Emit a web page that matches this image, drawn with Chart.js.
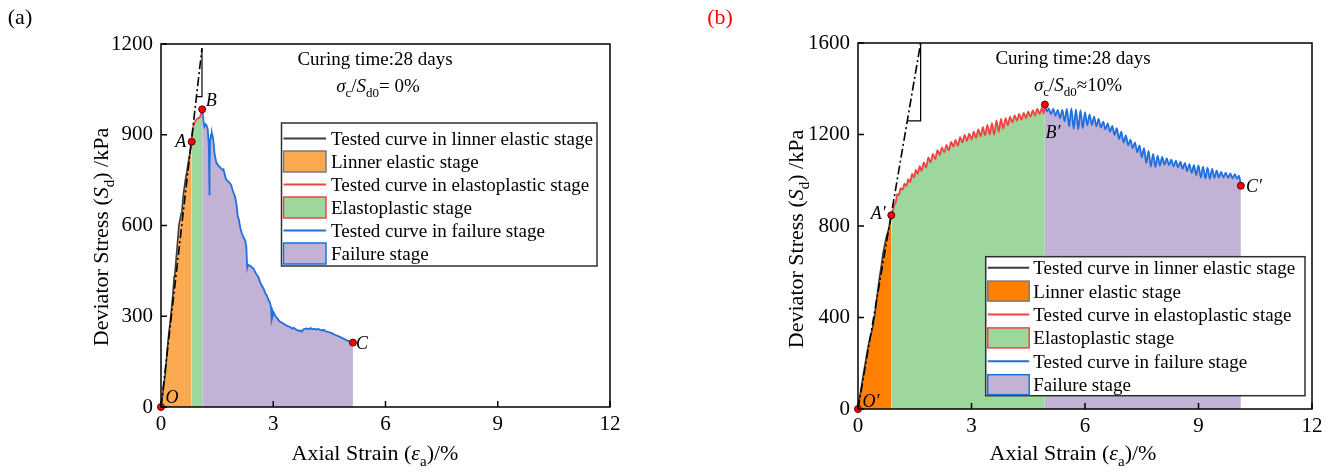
<!DOCTYPE html>
<html>
<head>
<meta charset="utf-8">
<script src="https://cdn.jsdelivr.net/npm/chart.js@4.4.1/dist/chart.umd.min.js"></script>
<style>
  html, body { margin: 0; padding: 0; background: #fff; width: 1333px; height: 473px; overflow: hidden; }
  canvas { position: absolute; top: 0; }
  #chartA { left: 0; }
  #chartB { left: 665px; }
</style>
</head>
<body>
<canvas id="chartA" width="665" height="473"></canvas>
<canvas id="chartB" width="668" height="473"></canvas>
<script>
// ---------- axis ticks ----------
const strainTicks = [0, 3, 6, 9, 12];
const stressTicksA = [0, 300, 600, 900, 1200];
const stressTicksB = [0, 400, 800, 1200, 1600];

// ---------- legend / annotation text ----------
const curveNames = ['Tested curve in linner elastic stage', 'Tested curve in elastoplastic stage', 'Tested curve in failure stage'];
const stageNames = ['Linner elastic stage', 'Elastoplastic stage', 'Failure stage'];
const curingText = 'Curing time:28 days';

// ---------- panel (a): sigma_c / Sd0 = 0 %  ([strain %, stress kPa]) ----------
const elasticA = [[0,0],[0.06,55],[0.115,111],[0.19,221],[0.26,299],[0.32,376],[0.35,431],[0.37,440],[0.41,497],
  [0.48,602],[0.54,640],[0.56,648],[0.59,695],[0.65,750],[0.70,785],[0.74,817],[0.78,845],[0.82,877]];
const plasticA = [[0.82,877],[0.84,905],[0.86,927],[0.90,942],[0.95,951],[1.00,955],[1.04,958],[1.07,968],[1.10,984]];
const failureA = [[1.10,984],[1.12,965],[1.14,940],[1.16,927],[1.19,935],[1.22,930],[1.25,918],[1.27,880],[1.28,850],
  [1.29,760],[1.295,700],[1.30,790],[1.31,880],[1.34,900],[1.36,905],[1.38,895],[1.40,880],[1.43,840],[1.45,825],
  [1.48,808],[1.52,800],[1.56,795],[1.60,790],[1.64,784],[1.67,786],[1.70,770],[1.73,755],[1.76,750],[1.80,745],
  [1.84,740],[1.87,735],[1.89,727],[1.92,715],[1.95,705],[1.98,695],[2.02,668],[2.05,632],[2.08,620],[2.12,592],
  [2.16,575],[2.20,562],[2.25,550],[2.28,530],[2.30,470],[2.31,462],[2.33,470],[2.36,468],[2.40,466],[2.44,460],
  [2.47,458],[2.52,445],[2.56,437],[2.60,430],[2.65,412],[2.70,400],[2.74,392],[2.78,378],[2.83,368],[2.88,352],
  [2.91,346],[2.94,330],[2.96,290],[2.98,300],[3.00,315],[3.03,308],[3.06,300],[3.09,296],[3.14,288],[3.18,282],
  [3.23,279],[3.27,276],[3.32,272],[3.37,268],[3.42,266],[3.46,264],[3.50,259],[3.55,262],[3.59,257],[3.63,255],
  [3.68,251],[3.72,253],[3.76,249],[3.80,256],[3.85,258],[3.90,260],[3.95,257],[4.00,261],[4.05,257],[4.10,259],
  [4.15,256],[4.20,258],[4.25,255],[4.30,253],[4.35,255],[4.40,250],[4.45,249],[4.50,247],[4.56,245],[4.61,241],
  [4.66,238],[4.71,236],[4.76,233],[4.81,230],[4.86,227],[4.91,224],[4.96,221],[5.02,218],[5.08,215],[5.13,213]];
const fitLineA = [[0,0],[1.095,1186]];
const slopeMarkA = [[0.947,1026],[1.095,1026],[1.095,1186]];
const keyNamesA = ['O', 'A', 'B', 'C'];
const keyPointsA = [[0,0],[0.82,877],[1.10,984],[5.13,213]];

// ---------- panel (b): sigma_c / Sd0 ≈ 10 % ----------
const elasticB = [[0,0],[0.04,45],[0.09,97],[0.15,160],[0.22,228],[0.28,285],[0.35,331],[0.40,367],[0.45,420],
  [0.49,476],[0.57,578],[0.62,630],[0.66,680],[0.75,753],[0.80,780],[0.84,811],[0.88,847]];
const plasticB = [[0.88,847],[0.92,868],[0.96,892],[1.00,905],[1.04,940],[1.08,935],[1.13,965],[1.18,958],[1.23,985],
  [1.28,975],[1.33,1005],[1.38,992],[1.43,1028],[1.48,1012],[1.53,1045],[1.58,1028],[1.63,1062],[1.68,1040],
  [1.74,1078],[1.80,1055],[1.86,1100],[1.92,1078],[1.98,1115],[2.04,1092],[2.10,1132],[2.16,1110],[2.22,1142],
  [2.28,1122],[2.34,1155],[2.40,1130],[2.46,1168],[2.52,1148],[2.58,1176],[2.64,1150],[2.70,1188],[2.76,1165],
  [2.82,1198],[2.88,1172],[2.94,1204],[3.00,1178],[3.06,1212],[3.12,1185],[3.18,1222],[3.24,1192],[3.30,1232],
  [3.36,1196],[3.42,1242],[3.48,1200],[3.54,1250],[3.60,1198],[3.66,1262],[3.72,1212],[3.78,1268],[3.84,1225],
  [3.90,1272],[3.96,1240],[4.02,1278],[4.08,1252],[4.14,1284],[4.20,1260],[4.26,1290],[4.32,1265],[4.38,1294],
  [4.44,1272],[4.50,1300],[4.56,1278],[4.62,1305],[4.68,1284],[4.74,1312],[4.80,1290],[4.86,1316],[4.91,1292],[4.94,1331]];
const failureB = [[4.94,1331],[4.99,1300],[5.04,1314],[5.10,1288],[5.16,1312],[5.22,1282],[5.28,1308],[5.34,1270],
  [5.40,1308],[5.46,1258],[5.52,1312],[5.58,1235],[5.64,1314],[5.70,1225],[5.76,1310],[5.82,1222],[5.88,1306],
  [5.94,1228],[6.00,1298],[6.06,1240],[6.12,1288],[6.18,1242],[6.24,1278],[6.30,1236],[6.36,1268],[6.42,1230],
  [6.48,1256],[6.54,1222],[6.60,1248],[6.66,1212],[6.72,1238],[6.78,1198],[6.84,1228],[6.90,1180],[6.96,1212],
  [7.02,1165],[7.08,1196],[7.14,1152],[7.20,1178],[7.26,1140],[7.32,1165],[7.38,1122],[7.44,1152],[7.50,1100],
  [7.56,1140],[7.62,1075],[7.68,1128],[7.74,1060],[7.80,1115],[7.86,1058],[7.92,1108],[7.98,1064],[8.04,1102],
  [8.10,1068],[8.16,1096],[8.22,1066],[8.28,1090],[8.34,1060],[8.40,1086],[8.46,1056],[8.52,1081],[8.58,1050],
  [8.64,1076],[8.70,1040],[8.76,1070],[8.82,1032],[8.88,1066],[8.94,1022],[9.00,1065],[9.06,1012],[9.12,1060],
  [9.18,1008],[9.24,1055],[9.30,1006],[9.36,1050],[9.42,1010],[9.48,1042],[9.54,1012],[9.60,1036],[9.66,1012],
  [9.72,1033],[9.78,1010],[9.84,1030],[9.90,1008],[9.96,1027],[10.02,1006],[10.07,1020],[10.12,976]];
const fitLineB = [[0,0],[1.655,1600]];
const slopeMarkB = [[1.303,1260],[1.655,1260],[1.655,1600]];
const keyNamesB = ['O\u2032', 'A\u2032', 'B\u2032', 'C\u2032'];
const keyPointsB = [[0,0],[0.88,847],[4.94,1331],[10.12,976]];

// ---------- drawing helpers ----------
const SERIF = '"Liberation Serif", "Times New Roman", serif';
const toXY = arr => arr.map(p => ({ x: p[0], y: p[1] }));

// draws a run of text pieces; piece.i = italic, piece.s = subscript
function drawRich(ctx, parts, x, y, size, align, angle) {
  ctx.save();
  ctx.translate(x, y);
  if (angle) ctx.rotate(angle);
  const fontFor = p => (p.i ? 'italic ' : '') + (p.s ? Math.round(size * 0.68) : size) + 'px ' + SERIF;
  let total = 0;
  const widths = parts.map(p => { ctx.font = fontFor(p); const w = ctx.measureText(p.t).width; total += w; return w; });
  let cx = align === 'center' ? -total / 2 : (align === 'right' ? -total : 0);
  ctx.textAlign = 'left';
  ctx.textBaseline = 'alphabetic';
  ctx.fillStyle = '#000';
  parts.forEach((p, k) => {
    ctx.font = fontFor(p);
    ctx.fillText(p.t, cx, size * 0.34 + (p.s ? size * 0.24 : 0));
    cx += widths[k];
  });
  ctx.restore();
}

const panelDecor = {
  id: 'panelDecor',
  afterDatasetsDraw(chart, args, o) {
    const { ctx, chartArea: a } = chart;
    const xs = chart.scales.x, ys = chart.scales.y;
    ctx.save();
    ctx.strokeStyle = '#000';
    ctx.lineWidth = 1.5;
    // inward tick marks
    ctx.beginPath();
    xs.ticks.forEach(t => { const px = xs.getPixelForValue(t.value); ctx.moveTo(px, a.bottom); ctx.lineTo(px, a.bottom - 6); });
    ys.ticks.forEach(t => { const py = ys.getPixelForValue(t.value); ctx.moveTo(a.left, py); ctx.lineTo(a.left + 6, py); });
    ctx.stroke();
    // plot frame
    ctx.strokeRect(a.left, a.top, a.right - a.left, a.bottom - a.top);
    ctx.restore();
  },
  afterDraw(chart, args, o) {
    const { ctx } = chart;
    const xs = chart.scales.x, ys = chart.scales.y;
    // legend box
    const L = o.legend;
    ctx.save();
    ctx.fillStyle = '#fff';
    ctx.fillRect(L.x, L.y, L.w, L.h);
    ctx.strokeStyle = '#303030';
    ctx.lineWidth = 1.5;
    ctx.strokeRect(L.x, L.y, L.w, L.h);
    const ds = chart.data.datasets;
    const rows = [
      { kind: 'line', d: ds[3], text: curveNames[0] },
      { kind: 'box', d: ds[3], edge: '#7a7a7a', text: stageNames[0] },
      { kind: 'line', d: ds[4], text: curveNames[1] },
      { kind: 'box', d: ds[4], edge: ds[4].borderColor, text: stageNames[1] },
      { kind: 'line', d: ds[5], text: curveNames[2] },
      { kind: 'box', d: ds[5], edge: ds[5].borderColor, text: stageNames[2] }
    ];
    rows.forEach((r, k) => {
      const cy = L.firstRow + k * L.gap;
      const sx = L.x + 2, sw = L.swatch;
      if (r.kind === 'line') {
        ctx.strokeStyle = r.d.borderColor;
        ctx.lineWidth = 2;
        ctx.beginPath(); ctx.moveTo(sx, cy); ctx.lineTo(sx + sw, cy); ctx.stroke();
      } else {
        ctx.fillStyle = r.d.backgroundColor;
        ctx.fillRect(sx, cy - L.boxH / 2, sw, L.boxH);
        ctx.strokeStyle = r.edge;
        ctx.lineWidth = 1.5;
        ctx.strokeRect(sx, cy - L.boxH / 2, sw, L.boxH);
      }
      drawRich(ctx, [{ t: r.text }], L.x + L.textX, cy, 19, 'left');
    });
    ctx.restore();

    // point names next to the key points
    const kp = ds[0].data;
    o.keyNames.forEach((name, k) => {
      const px = xs.getPixelForValue(kp[k].x) + o.keyOffsets[k][0];
      const py = ys.getPixelForValue(kp[k].y) + o.keyOffsets[k][1];
      drawRich(ctx, [{ t: name, i: true }], px, py, 18, 'center');
    });

    // test condition notes
    drawRich(ctx, [{ t: curingText }], o.curing[0], o.curing[1], 19, 'center');
    drawRich(ctx, o.ratio, o.ratioPos[0], o.ratioPos[1], 19, 'center');

    // axis titles
    drawRich(ctx, [{ t: 'Axial Strain (' }, { t: '\u03b5', i: true }, { t: 'a', s: true }, { t: ')/%' }],
      o.xTitle[0], o.xTitle[1], 22, 'center');
    drawRich(ctx, [{ t: 'Deviator Stress (' }, { t: 'S', i: true }, { t: 'd', s: true }, { t: ') /kPa' }],
      o.yTitle[0], o.yTitle[1], 22, 'center', -Math.PI / 2);

    // panel tag
    ctx.save();
    ctx.font = '22px ' + SERIF;
    ctx.fillStyle = o.tagColor;
    ctx.textAlign = 'center';
    ctx.textBaseline = 'middle';
    ctx.fillText(o.tag, o.tagPos[0], o.tagPos[1]);
    ctx.restore();
  }
};

function buildPanel(canvasId, p) {
  const datasets = [
    { label: 'key points', type: 'scatter', data: toXY(p.keys), pointRadius: 3.5, pointBackgroundColor: '#ff0000',
      pointBorderColor: '#5a0000', pointBorderWidth: 1, showLine: false, clip: false, order: 0 },
    { label: 'fit', data: toXY(p.fit), borderColor: '#000', borderWidth: 1.6, borderDash: [9, 3, 2, 3],
      pointRadius: 0, fill: false, order: 1 },
    { label: 'slope', data: toXY(p.slope), borderColor: '#000', borderWidth: 1.2, pointRadius: 0, fill: false, order: 2 },
    { label: curveNames[0], data: toXY(p.elastic), borderColor: '#3c3c3c', backgroundColor: p.orange, borderWidth: 1.6,
      pointRadius: 0, fill: 'origin', order: 3 },
    { label: curveNames[1], data: toXY(p.plastic), borderColor: '#f04444', backgroundColor: '#9ed79e', borderWidth: 1.8,
      pointRadius: 0, fill: 'origin', order: 4, cubicInterpolationMode: p.smooth ? 'monotone' : 'default' },
    { label: curveNames[2], data: toXY(p.failure), borderColor: '#1f6fdc', backgroundColor: '#c2b3d6', borderWidth: 1.8,
      pointRadius: 0, fill: 'origin', order: 5, cubicInterpolationMode: p.smooth ? 'monotone' : 'default' }
  ];
  return new Chart(document.getElementById(canvasId), {
    type: 'line',
    data: { datasets },
    plugins: [panelDecor],
    options: {
      responsive: false,
      animation: false,
      devicePixelRatio: 1,
      layout: { padding: p.padding },
      elements: { line: { tension: 0 } },
      plugins: {
        legend: { display: false },
        tooltip: { enabled: false },
        panelDecor: p.decor
      },
      scales: {
        x: {
          type: 'linear', min: 0, max: 12,
          afterBuildTicks: s => { s.ticks = strainTicks.map(v => ({ value: v })); },
          afterFit: s => { s.height = 30; },
          grid: { display: false, drawTicks: false },
          border: { display: false },
          ticks: { color: '#000', padding: 5, font: { family: SERIF, size: 21 }, callback: v => String(v) }
        },
        y: {
          type: 'linear', min: 0, max: p.yMax,
          afterBuildTicks: s => { s.ticks = p.yTicks.map(v => ({ value: v })); },
          afterFit: s => { s.width = 64; },
          grid: { display: false, drawTicks: false },
          border: { display: false },
          ticks: { color: '#000', padding: 8, font: { family: SERIF, size: 21 }, callback: v => String(v) }
        }
      }
    }
  });
}

buildPanel('chartA', {
  keys: keyPointsA, fit: fitLineA, slope: slopeMarkA,
  elastic: elasticA, plastic: plasticA, failure: failureA, smooth: false,
  orange: '#fcaa52', yMax: 1200, yTicks: stressTicksA,
  padding: { left: 97, right: 55, top: 44, bottom: 36 },
  decor: {
    legend: { x: 281.5, y: 123, w: 315.5, h: 143, firstRow: 138.5, gap: 23, swatch: 42.5, boxH: 21, textX: 49.5 },
    keyNames: keyNamesA, keyOffsets: [[11, -10], [-11, -1], [9, -9], [9, 0]],
    curing: [375, 59],
    ratio: [{ t: '\u03c3', i: true }, { t: 'c', s: true }, { t: '/' }, { t: 'S', i: true }, { t: 'd0', s: true }, { t: '= 0%' }],
    ratioPos: [378, 86],
    xTitle: [375, 453], yTitle: [101, 237],
    tag: '(a)', tagColor: '#000', tagPos: [20, 18]
  }
});

buildPanel('chartB', {
  keys: keyPointsB, fit: fitLineB, slope: slopeMarkB,
  elastic: elasticB, plastic: plasticB, failure: failureB, smooth: true,
  orange: '#ff8000', yMax: 1600, yTicks: stressTicksB,
  padding: { left: 129, right: 21, top: 43, bottom: 34 },
  decor: {
    legend: { x: 320.7, y: 256.7, w: 319.3, h: 139, firstRow: 267.7, gap: 23.4, swatch: 41.5, boxH: 20, textX: 47.6 },
    keyNames: keyNamesB, keyOffsets: [[13, -8], [-13, -2], [8, 27], [13, 0]],
    curing: [408, 58],
    ratio: [{ t: '\u03c3', i: true }, { t: 'c', s: true }, { t: '/' }, { t: 'S', i: true }, { t: 'd0', s: true }, { t: '\u224810%' }],
    ratioPos: [413, 85],
    xTitle: [408, 453], yTitle: [131, 239],
    tag: '(b)', tagColor: '#ff0000', tagPos: [55, 18]
  }
});
</script>
</body>
</html>
